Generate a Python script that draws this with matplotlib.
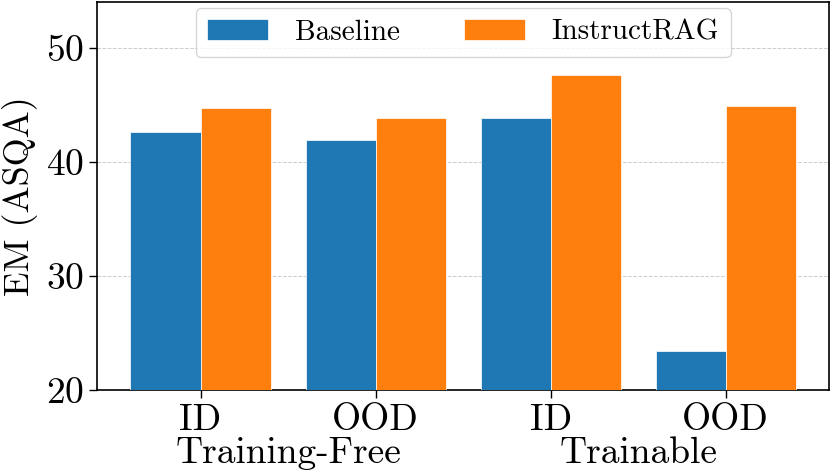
import numpy as np
import matplotlib.pyplot as plt

plt.rcParams['font.family'] = 'cmr10'
plt.rcParams['mathtext.fontset'] = 'cm'
plt.rcParams['axes.formatter.use_mathtext'] = True

categories = ['ID', 'OOD', 'ID', 'OOD']
groups = ['Training-Free', 'Trainable']
baseline = [42.6, 41.9, 43.8, 23.4]
instructrag = [44.7, 43.8, 47.6, 44.9]

fig = plt.figure(figsize=(8.31, 4.74), dpi=100)
ax = fig.add_axes([0.117, 0.177, 0.8806, 0.819])

x = np.arange(len(categories))
w = 0.4
ax.bar(x - w / 2, baseline, w, color='#1f77b4', edgecolor='#ffffff', linewidth=0.5, label='Baseline', zorder=3)
ax.bar(x + w / 2, instructrag, w, color='#ff7f0e', edgecolor='#ffffff', linewidth=0.5, label='InstructRAG', zorder=3)

ax.set_ylim(20, 54)
ax.set_yticks([20, 30, 40, 50])
ax.set_xticks(x)
ax.set_xticklabels(categories)
ax.tick_params(axis='both', labelsize=27, length=6, width=1)
ax.set_ylabel('EM (ASQA)', fontsize=26, labelpad=6)
ax.grid(axis='y', linestyle='--', color='#cccccc', linewidth=0.7, zorder=0)
for s in ax.spines.values():
    s.set_linewidth(1.2)

for i, g in enumerate(groups):
    ax.text(2 * i + 0.5, -0.188, g, transform=ax.get_xaxis_transform(),
            ha='center', va='baseline', fontsize=27)

ax.legend(loc='upper center', ncol=2, fontsize=21, handlelength=2.1,
          columnspacing=2.2, handletextpad=0.9, borderaxespad=0.2, framealpha=0.8,
          bbox_to_anchor=(0.5, 1.0))

fig.savefig('out.png', dpi=100)
